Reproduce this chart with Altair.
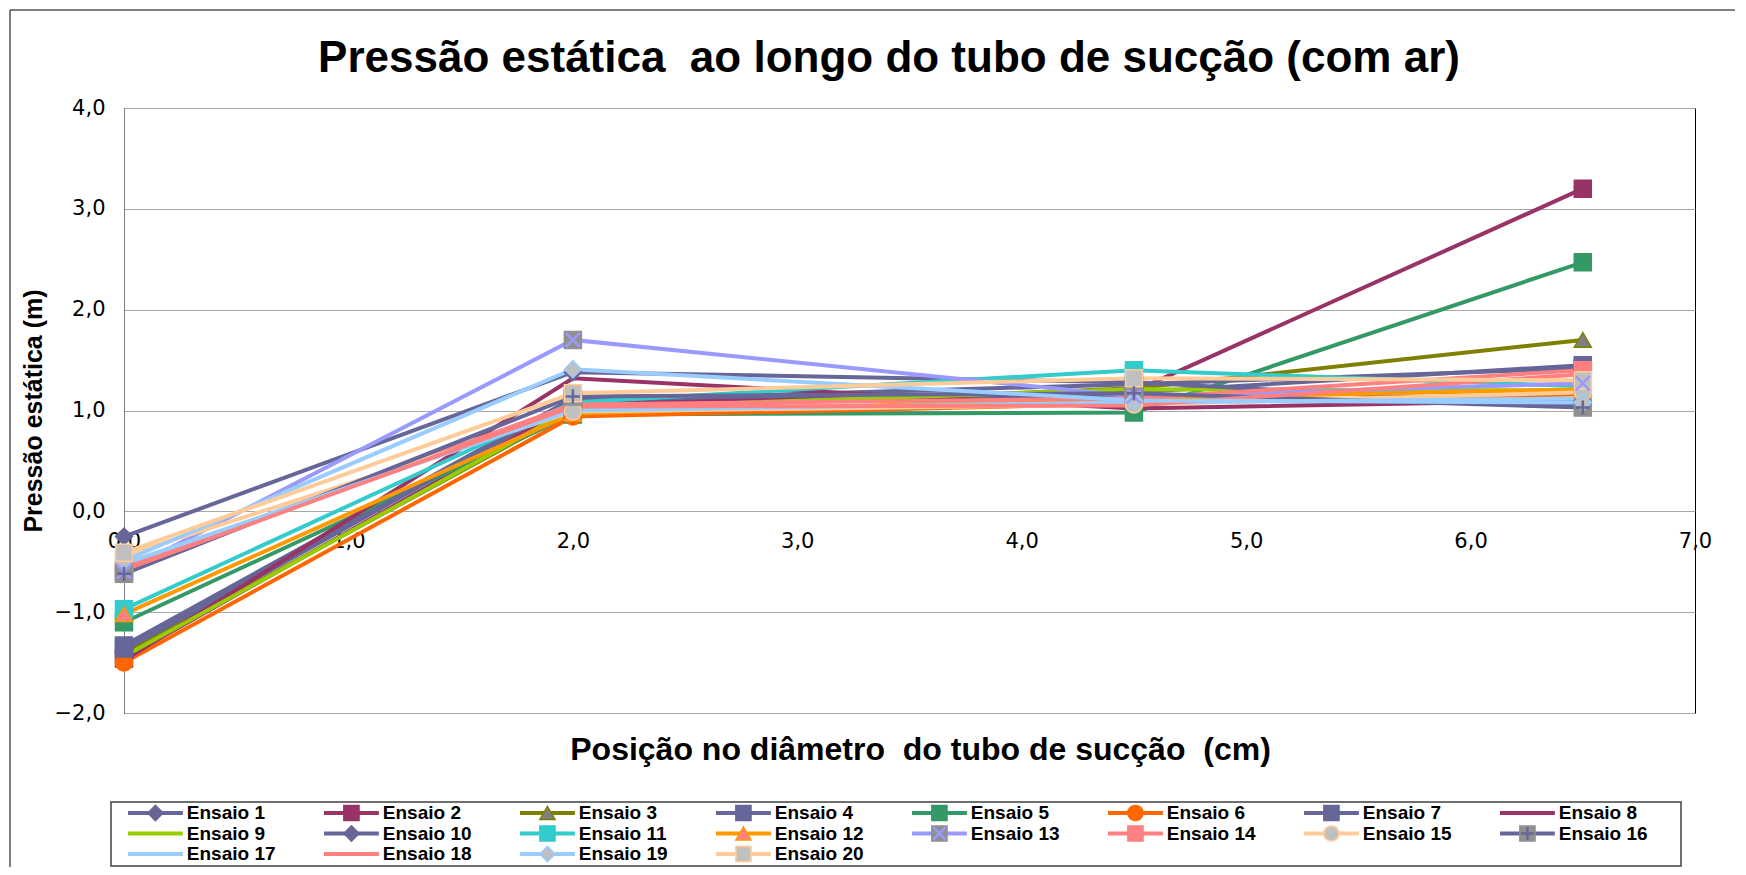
import altair as alt
import pandas as pd

# ---------------- data ----------------
positions = [0.0, 2.0, 4.5, 6.5]

ensaio_1 = [-1.40, 1.10, 1.15, 1.06]
ensaio_2 = [-1.46, 1.06, 1.19, 3.20]
ensaio_3 = [-1.42, 1.00, 1.22, 1.70]
ensaio_4 = [-1.33, 1.12, 1.18, 1.45]
ensaio_5 = [-1.10, 0.96, 0.98, 2.47]
ensaio_6 = [-1.50, 0.94, 1.07, 1.16]
ensaio_7 = [-1.36, 1.10, 1.26, 1.42]
ensaio_8 = [-1.48, 1.32, 1.02, 1.10]
ensaio_9 = [-1.44, 1.02, 1.21, 1.20]
ensaio_10 = [-0.25, 1.38, 1.28, 1.04]
ensaio_11 = [-0.97, 1.08, 1.40, 1.24]
ensaio_12 = [-1.02, 0.97, 1.12, 1.21]
ensaio_13 = [-0.60, 1.70, 1.14, 1.27]
ensaio_14 = [-0.55, 1.06, 1.12, 1.40]
ensaio_15 = [-0.44, 0.99, 1.06, 1.18]
ensaio_16 = [-0.62, 1.14, 1.17, 1.03]
ensaio_17 = [-0.52, 1.00, 1.08, 1.12]
ensaio_18 = [-0.58, 1.04, 1.05, 1.36]
ensaio_19 = [-0.49, 1.41, 1.10, 1.08]
ensaio_20 = [-0.41, 1.17, 1.32, 1.30]

series_values = [ensaio_1, ensaio_2, ensaio_3, ensaio_4, ensaio_5, ensaio_6, ensaio_7,
                 ensaio_8, ensaio_9, ensaio_10, ensaio_11, ensaio_12, ensaio_13, ensaio_14,
                 ensaio_15, ensaio_16, ensaio_17, ensaio_18, ensaio_19, ensaio_20]
series_names = [f"Ensaio {i}" for i in range(1, 21)]

x_ticks = [0, 1, 2, 3, 4, 5, 6, 7]
y_ticks = [-2, -1, 0, 1, 2, 3, 4]

NB = "\u00a0"
title_text = "Pressão estática " + NB + "ao longo do tubo de sucção (com ar)"
x_title = "Posição no diâmetro " + NB + "do tubo de sucção " + NB + "(cm)"
y_title = "Pressão estática (m)"

# ---------------- styles ----------------
line_colors = ["#666699", "#993366", "#808000", "#666699", "#339966", "#FF6600", "#666699",
               "#993366", "#99CC00", "#666699", "#33CCCC", "#FF9900", "#9999FF", "#FF8080",
               "#FFCC99", "#666699", "#99CCFF", "#FF8080", "#99CCFF", "#FFCC99"]

# series with markers: name -> (shape, fill, stroke)
marker_styles = {
    "Ensaio 1": ("diamond", "#666699", "#666699"),
    "Ensaio 2": ("square", "#993366", "#993366"),
    "Ensaio 3": ("triangle-up", "#808080", "#808000"),
    "Ensaio 4": ("square", "#666699", "#666699"),
    "Ensaio 5": ("square", "#339966", "#339966"),
    "Ensaio 6": ("circle", "#FF6600", "#FF6600"),
    "Ensaio 7": ("square", "#666699", "#666699"),
    "Ensaio 10": ("diamond", "#666699", "#666699"),
    "Ensaio 11": ("square", "#33CCCC", "#33CCCC"),
    "Ensaio 12": ("triangle-up", "#FF8080", "#FF9900"),
    "Ensaio 13": ("square", "#909090", "#909090"),
    "Ensaio 14": ("square", "#FF8080", "#FF8080"),
    "Ensaio 15": ("circle", "#C0C0C0", "#FFCC99"),
    "Ensaio 16": ("square", "#909090", "#909090"),
    "Ensaio 19": ("diamond", "#C0C0C0", "#99CCFF"),
    "Ensaio 20": ("square", "#C0C0C0", "#FFCC99"),
}
overlay_styles = {
    "Ensaio 13": ("M-1,-1L1,1M1,-1L-1,1", "#9999FF"),
    "Ensaio 16": ("M0,-1L0,1M-1,0L1,0", "#666699"),
}

marker_names = list(marker_styles.keys())
overlay_names = list(overlay_styles.keys())

rows = []
for idx, (name, vals) in enumerate(zip(series_names, series_values)):
    for xp, v in zip(positions, vals):
        rows.append({"series": name, "idx": idx, "pos": xp, "p": v})
df = pd.DataFrame(rows)
df_markers = df[df["series"].isin(marker_names)]
df_overlay = df[df["series"].isin(overlay_names)]
df_legend = pd.DataFrame({"series": series_names, "idx": list(range(len(series_names)))})
df_legend_m = df_legend[df_legend["series"].isin(marker_names)]
df_legend_o = df_legend[df_legend["series"].isin(overlay_names)]

color_scale = alt.Scale(domain=series_names, range=line_colors)
shape_scale = alt.Scale(domain=marker_names, range=[marker_styles[n][0] for n in marker_names])
fill_scale = alt.Scale(domain=marker_names, range=[marker_styles[n][1] for n in marker_names])
stroke_scale = alt.Scale(domain=marker_names, range=[marker_styles[n][2] for n in marker_names])
oshape_scale = alt.Scale(domain=overlay_names, range=[overlay_styles[n][0] for n in overlay_names])
ostroke_scale = alt.Scale(domain=overlay_names, range=[overlay_styles[n][1] for n in overlay_names])

comma_label = "replace(format(datum.value, '.1f'), '.', ',')"
W, H = 1571, 605

x_enc = alt.X("pos:Q",
              scale=alt.Scale(domain=[0, 7], nice=False, zero=False),
              axis=alt.Axis(values=x_ticks, labelExpr=comma_label, grid=False, domain=False,
                            ticks=False, tickSize=0, offset=-H / 3,
                            labelPadding=30, labelBaseline="middle", labelFontSize=21,
                            labelFont="DejaVu Sans", labelColor="#000000", labelFlush=False,
                            title=x_title, titleFont="Liberation Sans", titleFontSize=32,
                            titleFontWeight="bold", titleColor="#000000",
                            titleX=796, titleY=238, titleBaseline="middle", titleAlign="center"))
y_enc = alt.Y("p:Q",
              scale=alt.Scale(domain=[-2, 4], nice=False, zero=False),
              axis=alt.Axis(values=y_ticks, labelExpr=comma_label, grid=True, gridColor="#A8A8A8",
                            gridWidth=1, domain=True, domainColor="#808080", ticks=False, tickSize=0,
                            labelPadding=19, labelFontSize=21, labelFont="DejaVu Sans",
                            labelColor="#000000", labelFlush=False,
                            title=y_title, titleFont="Liberation Sans",
                            titleFontSize=25, titleFontWeight="bold", titleColor="#000000",
                            titleX=-91, titleY=H / 2, titleAngle=-90, titleBaseline="middle",
                            titleAlign="center"))

lines = alt.Chart(df).mark_line(strokeWidth=4).encode(
    x=x_enc, y=y_enc,
    color=alt.Color("series:N", scale=color_scale, legend=None),
    detail="series:N",
    order="pos:Q",
)
points = alt.Chart(df_markers).mark_point(filled=True, size=289, strokeWidth=1.5, opacity=1,
                                          fillOpacity=1).encode(
    x=x_enc, y=y_enc,
    shape=alt.Shape("series:N", scale=shape_scale, legend=None),
    fill=alt.Fill("series:N", scale=fill_scale, legend=None),
    stroke=alt.Stroke("series:N", scale=stroke_scale, legend=None),
)
overlay = alt.Chart(df_overlay).mark_point(filled=False, size=200, strokeWidth=2.5, opacity=1).encode(
    x=x_enc, y=y_enc,
    shape=alt.Shape("series:N", scale=oshape_scale, legend=None),
    stroke=alt.Stroke("series:N", scale=ostroke_scale, legend=None),
)
main = alt.layer(lines, points, overlay).resolve_scale(
    shape="independent", stroke="independent", fill="independent")

# ---------------- legend (drawn from data through its own scales) ----------------
ncol = 8
leg_x = alt.Scale(domain=[0, ncol], range=[4, 4 + 196 * ncol])
leg_y = alt.Scale(domain=[0, 2], range=[705, 746])


def leg_base(data):
    return alt.Chart(data).transform_calculate(
        col=f"datum.idx % {ncol}",
        row=f"floor(datum.idx / {ncol})",
    ).transform_calculate(
        lx1="datum.col",
        lx2="datum.col + 0.28",
        lxm="datum.col + 0.14",
        lxt="datum.col + 0.30",
    )


leg_lines = leg_base(df_legend).mark_rule(strokeWidth=4).encode(
    x=alt.X("lx1:Q", scale=leg_x, axis=None),
    x2="lx2:Q",
    y=alt.Y("row:Q", scale=leg_y, axis=None),
    color=alt.Color("series:N", scale=color_scale, legend=None),
)
leg_points = leg_base(df_legend_m).mark_point(filled=True, size=230, strokeWidth=1.5, opacity=1,
                                              fillOpacity=1).encode(
    x=alt.X("lxm:Q", scale=leg_x, axis=None),
    y=alt.Y("row:Q", scale=leg_y, axis=None),
    shape=alt.Shape("series:N", scale=shape_scale, legend=None),
    fill=alt.Fill("series:N", scale=fill_scale, legend=None),
    stroke=alt.Stroke("series:N", scale=stroke_scale, legend=None),
)
leg_overlay = leg_base(df_legend_o).mark_point(filled=False, size=160, strokeWidth=2.5, opacity=1).encode(
    x=alt.X("lxm:Q", scale=leg_x, axis=None),
    y=alt.Y("row:Q", scale=leg_y, axis=None),
    shape=alt.Shape("series:N", scale=oshape_scale, legend=None),
    stroke=alt.Stroke("series:N", scale=ostroke_scale, legend=None),
)
leg_text = leg_base(df_legend).mark_text(align="left", baseline="middle", font="Liberation Sans",
                                         fontSize=19, fontWeight="bold", color="#000000").encode(
    x=alt.X("lxt:Q", scale=leg_x, axis=None),
    y=alt.Y("row:Q", scale=leg_y, axis=None),
    text="series:N",
)
legend = alt.layer(leg_lines, leg_points, leg_overlay, leg_text).resolve_scale(
    shape="independent", stroke="independent", fill="independent")

# ---------------- decorations ----------------
one = alt.Data(values=[{"t": title_text}])
title_mark = alt.Chart(one).mark_text(font="Liberation Sans", fontSize=44, fontWeight="bold",
                                      color="#000000", align="center", baseline="middle").encode(
    x=alt.value(765), y=alt.value(-49), text="t:N")
legend_box = alt.Chart(one).mark_rect(fill=None, stroke="#404040", strokeWidth=1.5).encode(
    x=alt.value(-13), x2=alt.value(1557), y=alt.value(694), y2=alt.value(758))
outer_box = alt.Chart(one).mark_rect(fill=None, stroke="#000000", strokeWidth=1).encode(
    x=alt.value(-114), x2=alt.value(1700), y=alt.value(-98), y2=alt.value(900))

chart = alt.layer(outer_box, main, legend, legend_box, title_mark).resolve_scale(
    x="independent", y="independent",
    shape="independent", stroke="independent", fill="independent"
).properties(
    width=W, height=H,
    padding={"left": 116, "top": 100, "right": 40, "bottom": 154},
    autosize=alt.AutoSizeParams(type="none"),
    background="#FFFFFF",
).configure_view(stroke="#000000", strokeWidth=1)

chart.save("out.html", embed_options={"renderer": "svg", "actions": False})
